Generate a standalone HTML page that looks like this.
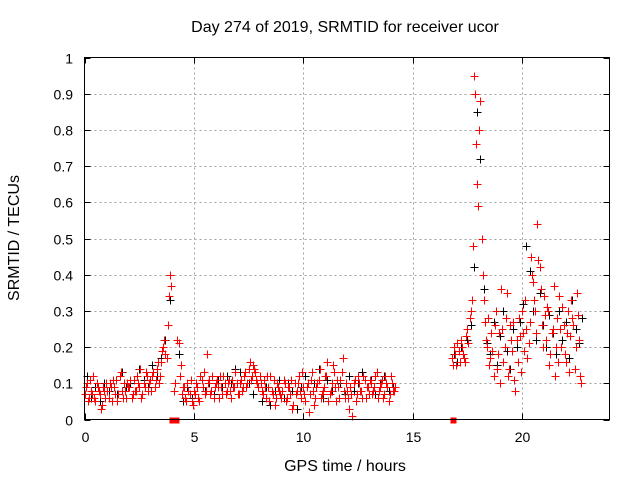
<!DOCTYPE html>
<html><head><meta charset="utf-8"><style>
html,body{margin:0;padding:0;background:#fff;}
svg{display:block;font-family:"Liberation Sans",sans-serif;}
</style></head><body>
<svg id="chart" width="640" height="480" viewBox="0 0 640 480">
<text x="345" y="32" font-size="16" text-anchor="middle" fill="#000">Day 274 of 2019, SRMTID for receiver ucor</text>
<text x="345" y="471" font-size="16" text-anchor="middle">GPS time / hours</text>
<text transform="translate(19,238) rotate(-90)" font-size="16" text-anchor="middle">SRMTID / TECUs</text>
<g id="grid"></g>
<g id="ticks"></g>
<g id="black" stroke="#000" stroke-width="1"></g>
<g id="red" stroke="#f00" stroke-width="1"></g>
<rect x="84.5" y="57.5" width="525" height="362" fill="none" stroke="#000"/>
</svg>
<script>
const xTicks=[0,5,10,15,20];
const yTicks=[0,0.1,0.2,0.3,0.4,0.5,0.6,0.7,0.8,0.9,1];
const yTickLabels=["0","0.1","0.2","0.3","0.4","0.5","0.6","0.7","0.8","0.9","1"];
const redS1Start=0, redS1Step=0.1;
const redS1A=[0.07,0.1,0.06,0.08,0.12,0.05,0.09,0.07,0.04,0.08,0.1,
0.06,0.09,0.11,0.07,0.05,0.12,0.08,0.1,0.06,0.09,
0.11,0.07,0.08,0.12,0.09,0.06,0.1,0.13,0.08,0.11,
0.12,0.09,0.14,0.1,0.16,0.2,0.18,0.26,0.4,0,
0.08,0,0.21,0.15,0.09,0.06,0.1,0.07,0.05,0.08,
0.1,0.06,0.12,0.09,0.07,0.18,0.11,0.08,0.06,0.1,
0.09,0.12,0.07,0.1,0.08,0.11,0.06,0.09,0.13,0.07,
0.1,0.08,0.12,0.09,0.14,0.11,0.15,0.13,0.1,0.12,
0.08,0.11,0.06,0.09,0.12,0.07,0.04,0.1,0.08,0.06,
0.11,0.05,0.09,0.07,0.03,0.1,0.08,0.12,0.06,0.09,
0.05,0.1,0.07,0.13,0.04,0.09,0.11,0.06,0.08,0.12,
0.16,0.07,0.1,0.13,0.05,0.09,0.11,0.17,0.06,0.08,
0.03,0.07,0.1,0.05,0.12,0.08,0.06,0.11,0.09,0.07,
0.1,0.08,0.12,0.06,0.09,0.11,0.07,0.1,0.05,0.12,0.08,0.09];
const redS1BStart=0.05;
const redS1B=[0.09,0.05,0.11,0.07,0.06,0.1,0.08,0.03,0.09,0.06,
0.08,0.1,0.05,0.09,0.11,0.07,0.13,0.06,0.08,0.1,
0.09,0.06,0.11,0.08,0.1,0.14,0.07,0.09,0.12,0.1,
0.08,0.13,0.11,0.16,0.12,0.19,0.22,0.17,0.34,0.37,
0,0.1,0.22,0.12,0.07,0.09,0.05,0.08,0.11,0.04,
0.07,0.09,0.05,0.11,0.13,0.08,0.1,0.07,0.12,0.09,
0.11,0.06,0.09,0.12,0.07,0.1,0.08,0.11,0.09,0.1,
0.07,0.11,0.09,0.13,0.1,0.16,0.12,0.14,0.11,0.09,
0.1,0.07,0.09,0.12,0.05,0.08,0.11,0.06,0.09,0.07,
0.08,0.1,0.06,0.09,0.11,0.04,0.07,0.1,0.08,0.13,
0.07,0.09,0.02,0.11,0.08,0.06,0.1,0.14,0.07,0.09,
0.12,0.05,0.08,0.15,0.09,0.11,0.06,0.13,0.08,0.1,
0.06,0.09,0.01,0.11,0.07,0.1,0.08,0.12,0.06,0.09,
0.11,0.07,0.09,0.13,0.08,0.1,0.06,0.12,0.09,0.07,0.1,0.08];
const redS2AStart=16.8, redS2Step=0.1;
const redS2A=[0.17,0.2,0.15,0.19,0.22,0.18,0.16,0.25,0.28,0.33,
0.95,0.76,0.59,0.88,0.4,0.27,0.2,0.15,0.24,0.12,
0.3,0.18,0.1,0.25,0.2,0.35,0.14,0.22,0.27,0.08,
0.16,0.23,0.3,0.19,0.25,0.21,0.45,0.38,0.3,0.54,
0.42,0.26,0.34,0.22,0.3,0.18,0.25,0.12,0.28,0.34,
0.2,0.26,0.16,0.3,0.23,0.28,0.14,0.35,0.22,0.1];
const redS2BStart=16.85;
const redS2B=[0.15,0.18,0.21,0.16,0.2,0.17,0.23,0.21,0.3,0.48,
0.9,0.65,0.8,0.5,0.33,0.22,0.28,0.17,0.19,0.26,
0.14,0.24,0.36,0.16,0.28,0.12,0.26,0.19,0.11,0.22,
0.28,0.13,0.24,0.33,0.17,0.27,0.4,0.33,0.24,0.44,
0.36,0.2,0.29,0.31,0.15,0.24,0.37,0.2,0.16,0.25,
0.31,0.18,0.24,0.13,0.33,0.26,0.2,0.29,0.12];
const zeroTimes=[16.85];
const blackS1Start=0.1, blackS1Step=0.2;
const blackS1=[0.12,0.06,0.09,0.05,0.1,0.08,0.11,0.07,0.13,0.09,
0.1,0.08,0.14,0.11,0.09,0.15,0.12,0.17,0.22,0.33,
0.08,0.18,0.05,0.09,0.06,0.1,0.12,0.08,0.1,0.07,
0.11,0.09,0.12,0.1,0.14,0.13,0.12,0.1,0.07,0.1,
0.05,0.09,0.04,0.08,0.11,0.06,0.1,0.08,0.03,0.09,
0.12,0.07,0.1,0.14,0.06,0.11,0.08,0.05,0.1,0.07,
0.12,0.08,0.1,0.13,0.09,0.11,0.07,0.1,0.12,0.08,0.09];
const blackS2Start=16.9, blackS2Step=0.15;
const blackS2=[0.18,0.16,0.2,0.17,0.22,0.26,0.42,0.85,0.72,0.36,
0.21,0.18,0.27,0.15,0.23,0.3,0.19,0.14,0.25,0.2,
0.27,0.32,0.48,0.41,0.3,0.22,0.35,0.26,0.2,0.29,
0.24,0.18,0.3,0.22,0.27,0.17,0.33,0.25,0.21,0.28];

const X0=84.5,X1=609.5,Y0=419.5,Y1=57.5,XMAX=24,YMAX=1;
function xs(t){return X0+(X1-X0)*t/XMAX;}
function ys(v){return Y0-(Y0-Y1)*v/YMAX;}
const NS='http://www.w3.org/2000/svg';
function mk(tag,parent,attrs){const e=document.createElementNS(NS,tag);for(const k in attrs)e.setAttribute(k,attrs[k]);parent.appendChild(e);return e;}
const grid=document.getElementById('grid'),ticks=document.getElementById('ticks');
xTicks.forEach(t=>{
  const x=Math.round(xs(t))+0.5;
  if(t>0){const g=mk('line',grid,{x1:x,x2:x,y1:Y1,y2:Y0,stroke:'#a0a0a0','stroke-dasharray':'2,3'});
  
  }
  mk('line',ticks,{x1:x,x2:x,y1:Y0,y2:Y0-6,stroke:'#000'});
  mk('line',ticks,{x1:x,x2:x,y1:Y1,y2:Y1+6,stroke:'#000'});
  const l=mk('text',ticks,{x:x,y:442,'font-size':14,'text-anchor':'middle',stroke:'none'});
  l.textContent=String(t);
  
  
});
yTicks.forEach((v,i)=>{
  const y=Math.round(ys(v))+0.5;
  if(v>0&&v<1){const g=mk('line',grid,{x1:X0,x2:X1,y1:y,y2:y,stroke:'#a0a0a0','stroke-dasharray':'2,3'});
  
  }
  mk('line',ticks,{x1:X0,x2:X0+6,y1:y,y2:y,stroke:'#000'});
  mk('line',ticks,{x1:X1,x2:X1-6,y1:y,y2:y,stroke:'#000'});
  const l=mk('text',ticks,{x:73,y:y+5,'font-size':14,'text-anchor':'end'});
  l.textContent=yTickLabels[i];
  
  
});
function plus(g,t,v,color){
  const x=Math.round(xs(t))+0.5,y=Math.round(ys(v))+0.5;
  if(v<=0){const r=mk('rect',g,{x:x-3,y:y-3,width:6,height:6,fill:color,stroke:'none'});
    
    return;}
  const p=mk('path',g,{d:`M${x-4} ${y}H${x+4}M${x} ${y-4}V${y+4}`,fill:'none'});
  
  
}
const bg=document.getElementById('black'),rg=document.getElementById('red');
blackS1.forEach((v,i)=>plus(bg,blackS1Start+i*blackS1Step,v,'#000'));
blackS2.forEach((v,i)=>plus(bg,blackS2Start+i*blackS2Step,v,'#000'));
redS1A.forEach((v,i)=>plus(rg,redS1Start+i*redS1Step,v,'#f00'));
redS1B.forEach((v,i)=>plus(rg,redS1BStart+i*redS1Step,v,'#f00'));
redS2A.forEach((v,i)=>plus(rg,redS2AStart+i*redS2Step,v,'#f00'));
redS2B.forEach((v,i)=>plus(rg,redS2BStart+i*redS2Step,v,'#f00'));
zeroTimes.forEach(t=>plus(rg,t,0,'#f00'));
</script>
</body></html>
